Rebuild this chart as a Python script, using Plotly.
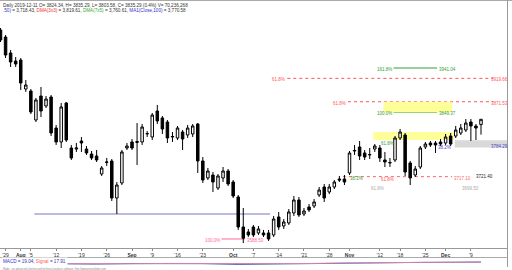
import plotly.graph_objects as go
import pandas as pd

# ---------------- data ----------------
holidays = ["2019-09-02", "2019-11-11", "2019-11-28"]
dates = [d.strftime("%Y-%m-%d") for d in pd.bdate_range("2019-07-26", "2019-12-11")
         if d.strftime("%Y-%m-%d") not in holidays]

opens = [4019.4, 4004.9, 3972.0, 3955.5, 3957.5, 3897.7, 3893.6, 3833.8, 3883.3, 3862.8,
         3881.3, 3817.3, 3788.5, 3868.9, 3776.1, 3774.0, 3790.5, 3774.0, 3763.7, 3759.6,
         3722.5, 3746.2, 3749.3, 3673.0, 3704.0, 3776.1, 3788.5, 3787.5, 3788.5, 3805.0,
         3798.8, 3852.4, 3838.0, 3829.7, 3798.8, 3796.7, 3809.1, 3802.9, 3805.0, 3825.6,
         3749.3, 3714.3, 3720.4, 3693.6, 3714.3, 3728.7, 3706.0, 3675.1, 3613.2, 3603.0,
         3613.2, 3600.9, 3600.9, 3600.9, 3596.8, 3633.9, 3615.3, 3621.5, 3642.1, 3668.9,
         3640.0, 3654.5, 3656.5, 3679.2, 3695.7, 3685.4, 3695.7, 3712.2, 3712.2, 3724.6,
         3769.9, 3778.2, 3765.8, 3761.7, 3774.0, 3776.1, 3751.4, 3745.2, 3751.4, 3796.7,
         3802.9, 3745.2, 3720.4, 3736.9, 3778.2, 3786.4, 3786.4, 3788.5, 3786.4, 3800.8,
         3800.8, 3807.0, 3813.2, 3829.7, 3821.5, 3824.34]
highs = [4023.5, 4009.1, 3978.2, 3963.7, 3961.7, 3916.3, 3897.7, 3879.2, 3901.9, 3883.3,
         3885.4, 3823.5, 3868.9, 3871.0, 3782.3, 3786.4, 3798.8, 3780.2, 3769.9, 3772.0,
         3739.0, 3755.5, 3753.4, 3706.0, 3772.0, 3786.4, 3794.7, 3827.6, 3825.6, 3811.1,
         3848.3, 3864.8, 3842.1, 3833.8, 3809.1, 3821.5, 3813.2, 3823.5, 3825.6, 3827.6,
         3757.5, 3734.9, 3726.6, 3722.5, 3736.9, 3732.8, 3710.1, 3679.2, 3652.4, 3609.1,
         3617.4, 3615.3, 3607.1, 3607.1, 3635.9, 3644.2, 3629.7, 3650.3, 3677.1, 3675.1,
         3652.4, 3660.6, 3670.9, 3695.7, 3701.9, 3701.9, 3710.1, 3718.4, 3720.4, 3769.9,
         3782.3, 3790.5, 3772.0, 3776.1, 3784.3, 3782.3, 3767.9, 3755.5, 3800.8, 3815.3,
         3807.0, 3749.3, 3739.0, 3780.2, 3788.5, 3790.5, 3790.5, 3794.7, 3805.0, 3807.0,
         3821.5, 3825.6, 3835.9, 3835.9, 3825.6, 3835.29]
lows = [3994.6, 3961.7, 3943.1, 3943.1, 3895.7, 3891.6, 3846.2, 3829.7, 3840.0, 3858.6,
        3800.8, 3782.3, 3776.1, 3788.5, 3751.4, 3767.9, 3767.9, 3761.7, 3751.4, 3747.2,
        3718.4, 3739.0, 3666.8, 3640.0, 3699.8, 3772.0, 3772.0, 3741.1, 3782.3, 3798.8,
        3792.6, 3825.6, 3805.0, 3786.4, 3788.5, 3792.6, 3772.0, 3796.7, 3798.8, 3724.6,
        3704.0, 3710.1, 3685.4, 3689.5, 3706.0, 3697.8, 3673.0, 3607.1, 3580.0, 3592.6,
        3592.6, 3596.8, 3592.6, 3584.4, 3592.6, 3607.1, 3609.1, 3617.4, 3635.9, 3633.9,
        3635.9, 3644.2, 3652.4, 3675.1, 3664.8, 3681.0, 3691.6, 3706.0, 3699.8, 3720.4,
        3761.7, 3751.4, 3751.4, 3753.4, 3767.9, 3747.2, 3736.9, 3736.9, 3747.2, 3792.6,
        3718.4, 3699.8, 3716.3, 3732.8, 3774.0, 3778.2, 3765.8, 3780.2, 3782.3, 3780.2,
        3796.7, 3802.9, 3809.1, 3790.5, 3792.6, 3803.58]
closes = [3998.8, 3967.8, 3953.4, 3949.3, 3910.1, 3906.0, 3850.3, 3875.1, 3852.4, 3877.1,
          3807.0, 3788.5, 3860.7, 3792.6, 3755.5, 3776.1, 3786.4, 3765.8, 3755.5, 3751.4,
          3734.9, 3747.2, 3673.0, 3699.8, 3767.9, 3780.2, 3776.1, 3789.5, 3819.4, 3806.0,
          3844.1, 3831.8, 3815.3, 3796.7, 3799.8, 3817.3, 3794.7, 3817.3, 3821.5, 3749.3,
          3710.1, 3728.7, 3706.0, 3718.4, 3728.7, 3701.9, 3677.1, 3613.2, 3590.0, 3596.8,
          3596.8, 3609.1, 3596.8, 3588.5, 3629.7, 3613.2, 3623.6, 3644.2, 3668.9, 3638.0,
          3646.2, 3648.3, 3664.8, 3689.5, 3673.0, 3695.7, 3706.0, 3710.1, 3706.0, 3765.8,
          3771.0, 3759.6, 3757.5, 3762.7, 3780.2, 3755.5, 3747.2, 3746.2, 3796.7, 3809.1,
          3726.6, 3714.3, 3732.8, 3776.1, 3784.3, 3782.3, 3782.3, 3784.3, 3798.8, 3784.3,
          3813.2, 3817.3, 3827.6, 3821.5, 3817.3, 3835.29]

tick_dates = ["2019-07-29", "2019-08-01", "2019-08-05", "2019-08-12", "2019-08-19", "2019-08-26",
              "2019-09-03", "2019-09-09", "2019-09-16", "2019-09-23", "2019-10-01", "2019-10-07",
              "2019-10-14", "2019-10-21", "2019-10-28", "2019-11-01", "2019-11-12", "2019-11-18",
              "2019-11-25", "2019-12-02", "2019-12-09"]
tick_labels = ["'29", "<b>Aug</b>", "'5", "'12", "'19", "'26", "<b>Sep</b>", "'9", "'16", "'23",
               "<b>Oct</b>", "'7", "'14", "'21", "'28", "<b>Nov</b>", "'12", "'18", "'25",
               "<b>Dec</b>", "'9"]

# MACD panel (read roughly)
macd_dates = ["2019-08-13", "2019-08-22", "2019-09-03", "2019-09-12", "2019-09-23", "2019-10-02",
              "2019-10-11", "2019-10-22", "2019-10-31", "2019-11-12", "2019-11-22", "2019-12-04",
              "2019-12-11"]
macd_vals = [-25, -32, -20, -12, -22, -40, -30, -10, 5, 12, 10, 15, 19.04]
signal_vals = [-20, -28, -24, -16, -18, -32, -34, -18, -4, 8, 10, 13, 17.91]

# horizontal levels: value, left label, right label, start date, end date
lvl_values = [3941.04, 3919.66, 3871.53, 3849.37, 3717.10, 3588.50, 3640.00]
lvl_left = ["161.8%", "61.8%", "61.8%", "100.0%", "", "100.0%", ""]
lvl_right = ["3941.04", "3919.66", "3871.53", "3849.37", "3717.10", "3588.50", ""]
lvl_start = ["2019-11-15", "2019-10-16", "2019-11-01", "2019-11-15", "2019-10-31", "2019-09-27",
             "2019-08-06"]
lvl_end = ["2019-11-27", None, None, "2019-11-27", "2019-12-03", "2019-10-03", "2019-10-10"]

# ---------------- figure ----------------
W, H = 512, 270
FONT = "Liberation Sans"
idx = list(range(len(dates)))
xi = {d: i for i, d in enumerate(dates)}
XR = [-0.1, 100.14]
YR = [3569.9, 4079.2]

def py(px):  # pixel row -> paper y
    return (H - px) / H

fig = go.Figure()
fig.add_trace(go.Candlestick(
    x=idx, open=opens, high=highs, low=lows, close=closes,
    increasing=dict(line=dict(color="black", width=1), fillcolor="white"),
    decreasing=dict(line=dict(color="black", width=1), fillcolor="black"),
    whiskerwidth=0, showlegend=False, hoverinfo="skip"))

mx = [xi[d] for d in macd_dates]
fig.add_trace(go.Scatter(x=mx, y=macd_vals, yaxis="y2", mode="lines",
                         line=dict(color="#5555bb", width=1), showlegend=False, hoverinfo="skip"))
fig.add_trace(go.Scatter(x=mx, y=signal_vals, yaxis="y2", mode="lines",
                         line=dict(color="#cc88aa", width=1), showlegend=False, hoverinfo="skip"))

shapes = []
ann = []
lvl_colors = ["#33a033", "#ff5555", "#ff5555", "#33a033", "#ff6666", "#ff6699", "#7777cc"]
lvl_dash = ["solid", "dot", "dot", "solid", "dot", "solid", "solid"]
for v, ll, rl, s, e, c, dsh in zip(lvl_values, lvl_left, lvl_right, lvl_start, lvl_end, lvl_colors, lvl_dash):
    x0 = xi[s] - 0.3
    x1 = xi[e] + 0.3 if e else XR[1] - 2.7
    shapes.append(dict(type="line", xref="x", yref="y", x0=x0, x1=x1, y0=v, y1=v,
                       line=dict(color=c, width=1, dash=dsh), layer="below"))
    if ll:
        ann.append(dict(x=x0, y=v, xref="x", yref="y", text=ll, xanchor="right", yanchor="middle",
                        yshift=-1.5, showarrow=False, font=dict(size=4.5, color=c, family=FONT)))
    if rl:
        if e:
            ann.append(dict(x=x1, y=v, xref="x", yref="y", text=rl, xanchor="left", yanchor="middle",
                            yshift=-1.5, showarrow=False, font=dict(size=4.5, color=c, family=FONT)))
        else:
            ann.append(dict(x=510 / W, y=v, xref="paper", yref="y", text=rl, xanchor="right",
                            yanchor="middle", yshift=-1.5, showarrow=False,
                            font=dict(size=4.5, color=c, family=FONT)))

# yellow zones and grey band
shapes.append(dict(type="rect", xref="x", yref="y", x0=xi["2019-11-13"] - 0.3, x1=xi["2019-12-03"] + 0.3,
                   y0=3849.37, y1=3871.53, fillcolor="#ffff99", line=dict(width=0), layer="below"))
shapes.append(dict(type="rect", xref="x", yref="y", x0=xi["2019-11-08"] - 0.3, x1=xi["2019-12-03"] + 0.6,
                   y0=3792.6, y1=3809.1, fillcolor="#ffff99", line=dict(width=0), layer="below"))
shapes.append(dict(type="rect", xref="x", yref="y", x0=xi["2019-12-04"] - 0.2, x1=XR[1],
                   y0=3777.0, y1=3792.0, fillcolor="#d9d9d9", line=dict(width=0), layer="below"))

def txt(x, y, s, c, size=4.5, xa="left"):
    ann.append(dict(x=x, y=y, xref="x", yref="y", text=s, xanchor=xa, yanchor="middle",
                    showarrow=False, font=dict(size=size, color=c, family=FONT)))

txt(xi["2019-11-12"] - 0.2, 3786.0, "61.8%", "#33a033")
txt(xi["2019-12-03"] + 0.4, 3778.0, "38.2%", "#4444cc", xa="right")
ann.append(dict(x=510 / W, y=3784.29, xref="paper", yref="y", text="3784.29", xanchor="right",
                yanchor="middle", yshift=-2, showarrow=False,
                font=dict(size=4.5, color="#4444cc", family=FONT)))
txt(xi["2019-10-31"] + 0.8, 3713.0, "38.2%", "#33a033")
txt(xi["2019-11-12"] - 0.2, 3712.0, "61.8%", "#ff5555")
txt(xi["2019-12-10"] - 0.3, 3717.0, "3721.40", "#222222")
txt(xi["2019-11-07"] - 0.2, 3692.0, "61.8%", "#aaaaaa")
txt(xi["2019-12-05"] - 0.2, 3692.0, "3699.50", "#aaaaaa")

# borders
shapes.append(dict(type="line", xref="paper", yref="paper", x0=0, x1=1, y0=py(0.5), y1=py(0.5),
                   line=dict(color="#aaaaaa", width=1)))
shapes.append(dict(type="line", xref="paper", yref="paper", x0=507.5 / W, x1=507.5 / W, y0=py(267), y1=py(0),
                   line=dict(color="#999999", width=1)))
shapes.append(dict(type="line", xref="paper", yref="paper", x0=0, x1=507.5 / W, y0=py(257.5), y1=py(257.5),
                   line=dict(color="#aaaaaa", width=1)))

# header
ann.append(dict(x=0.5 / W, y=py(0.5), xref="paper", yref="paper", xanchor="left", yanchor="top",
                showarrow=False, align="left",
                text="Daily 2019-12-11 O= 3824.34, H= 3835.29, L= 3803.58, C= 3835.29 (0.4%) V= 70,236,268",
                font=dict(size=4.6, color="#333333", family=FONT)))
ann.append(dict(x=0.5 / W, y=py(6.5), xref="paper", yref="paper", xanchor="left", yanchor="top",
                showarrow=False, align="left",
                text="<span style='color:#3333cc'>.50)</span> = 3,718.43, <span style='color:#ee3333'>DMA(3x3)</span>"
                     " = 3,819.61, <span style='color:#33aa33'>DMA(7x5)</span> = 3,760.61, "
                     "<span style='color:#3333cc'>MA1(Close,100)</span> = 3,770.58",
                font=dict(size=4.6, color="#333333", family=FONT)))
ann.append(dict(x=1 / W, y=py(261.5), xref="paper", yref="paper", xanchor="left", yanchor="middle",
                showarrow=False, bgcolor="white",
                text="<span style='color:#3333cc'>MACD</span> = 19.04, <span style='color:#ff5555'>Signal</span> = 17.91",
                font=dict(size=4.6, color="#3333aa", family=FONT)))
ann.append(dict(x=0.5 / W, y=py(268.5), xref="paper", yref="paper", xanchor="left", yanchor="middle",
                showarrow=False,
                text="Made - an advanced charting and technical analysis software. http://www.prorealtime.com",
                font=dict(size=2.6, color="#888888", family=FONT)))

fig.update_layout(
    width=W, height=H, margin=dict(l=0, r=0, t=0, b=0),
    paper_bgcolor="white", plot_bgcolor="white",
    shapes=shapes, annotations=ann, showlegend=False,
    xaxis=dict(domain=[0, 507 / W], range=XR, type="linear", rangeslider=dict(visible=False),
               tickvals=[xi[d] for d in tick_dates], ticktext=tick_labels,
               tickfont=dict(size=5, color="#333333", family=FONT), ticks="outside", ticklen=2,
               tickcolor="#888888", showline=True, linecolor="#999999", linewidth=1,
               showgrid=False, zeroline=False, anchor="y"),
    yaxis=dict(domain=[py(248), py(1)], range=YR, showticklabels=False, showgrid=False,
               zeroline=False, showline=False, ticks=""),
    yaxis2=dict(domain=[py(266), py(258)], range=[-80, 120], showticklabels=False, showgrid=False,
                zeroline=False, showline=False, ticks=""),
)

fig.write_html("out.html")
